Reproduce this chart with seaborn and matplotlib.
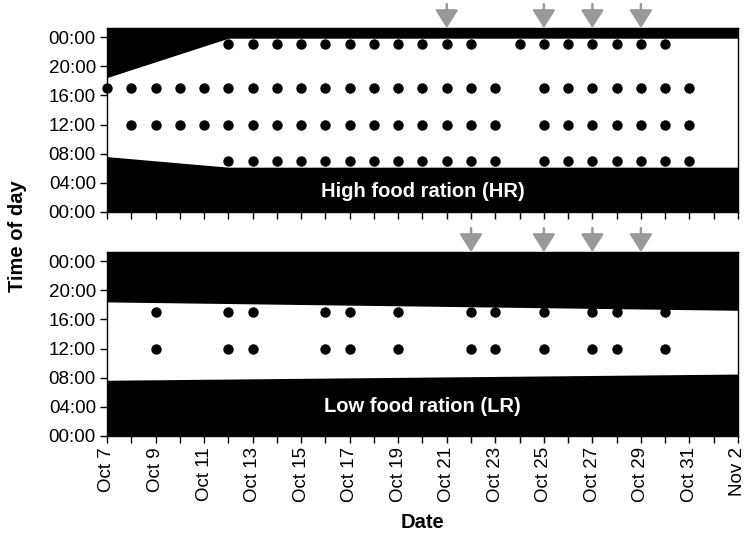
import matplotlib
matplotlib.use("Agg")
import matplotlib.pyplot as plt
import matplotlib.dates as mdates
import numpy as np
import pandas as pd
import seaborn as sns

YEAR = 2012

# Feeding events (day of month) at each feeding hour, high food ration
hr_days_23h = [12, 13, 14, 15, 16, 17, 18, 19, 20, 21, 22, 24, 25, 26, 27, 28, 29, 30]
hr_days_17h = [7, 8, 9, 10, 11, 12, 13, 14, 15, 16, 17, 18, 19, 20, 21, 22, 23,
               25, 26, 27, 28, 29, 30, 31]
hr_days_12h = [8, 9, 10, 11, 12, 13, 14, 15, 16, 17, 18, 19, 20, 21, 22, 23,
               25, 26, 27, 28, 29, 30, 31]
hr_days_07h = [12, 13, 14, 15, 16, 17, 18, 19, 20, 21, 22, 23,
               25, 26, 27, 28, 29, 30, 31]

# Feeding events, low food ration
lr_days_17h = [9, 12, 13, 16, 17, 19, 22, 23, 25, 27, 28, 30]
lr_days_12h = [9, 12, 13, 16, 17, 19, 22, 23, 25, 27, 28, 30]

# Sampling days (arrows)
hr_arrow_days = [21, 25, 27, 29]
lr_arrow_days = [22, 25, 27, 29]

# Photoperiod: hours of dawn / dusk at breakpoints
hr_light_dates = ["2012-10-07", "2012-10-12", "2012-11-02"]
hr_dawn = [7.6, 6.15, 6.15]
hr_dusk = [18.45, 23.85, 23.85]
lr_light_dates = ["2012-10-07", "2012-11-02"]
lr_dawn = [7.65, 8.5]
lr_dusk = [18.4, 17.25]

# Axis ticks and labels
y_ticks = [0, 4, 8, 12, 16, 20, 24]
y_tick_labels = ["00:00", "04:00", "08:00", "12:00", "16:00", "20:00", "00:00"]
x_tick_dates = ["2012-10-07", "2012-10-09", "2012-10-11", "2012-10-13", "2012-10-15",
                "2012-10-17", "2012-10-19", "2012-10-21", "2012-10-23", "2012-10-25",
                "2012-10-27", "2012-10-29", "2012-10-31", "2012-11-02"]
x_tick_labels = ["Oct 7", "Oct 9", "Oct 11", "Oct 13", "Oct 15", "Oct 17", "Oct 19",
                 "Oct 21", "Oct 23", "Oct 25", "Oct 27", "Oct 29", "Oct 31", "Nov 2"]

X_START = pd.Timestamp("2012-10-07")
X_END = pd.Timestamp("2012-11-02")
Y_TOP = 25.25


def oct_day(d):
    return pd.Timestamp(YEAR, 10, d)


def feeding_frame(groups):
    rows = []
    for hour, days in groups:
        for d in days:
            rows.append({"date": oct_day(d), "hour": hour})
    return pd.DataFrame(rows)


hr_feed = feeding_frame([(23, hr_days_23h), (17, hr_days_17h),
                         (12, hr_days_12h), (7, hr_days_07h)])
lr_feed = feeding_frame([(17, lr_days_17h), (12, lr_days_12h)])

sns.set_theme(style="ticks")
plt.rcParams["font.family"] = ["Liberation Sans", "DejaVu Sans"]
plt.rcParams["text.color"] = "black"
plt.rcParams["xtick.color"] = "black"
plt.rcParams["ytick.color"] = "black"
plt.rcParams["axes.labelcolor"] = "black"

fig = plt.figure(figsize=(7.44, 5.36), dpi=100)
W, H = 744, 536
left, right = 107, 738
ax_hr = fig.add_axes([left / W, 1 - 212 / H, (right - left) / W, 184 / H])
ax_lr = fig.add_axes([left / W, 1 - 436 / H, (right - left) / W, 184 / H])


def draw_panel(ax, feed, light_dates, dawn, dusk, arrow_days, label, label_y, show_xlabels):
    dates = pd.to_datetime(light_dates)
    ax.fill_between(dates, 0, dawn, color="black", lw=0, zorder=1)
    ax.fill_between(dates, dusk, Y_TOP, color="black", lw=0, zorder=1)
    sns.scatterplot(data=feed, x="date", y="hour", color="black", s=56,
                    linewidth=0, ax=ax, clip_on=False, zorder=3)
    ax.set_xlim(X_START, X_END)
    ax.set_ylim(0, Y_TOP)
    ax.set_xlabel("")
    ax.set_ylabel("")
    ax.set_yticks(y_ticks)
    ax.set_yticklabels(y_tick_labels)
    ax.set_xticks(pd.to_datetime(x_tick_dates))
    ax.set_xticks(pd.date_range(X_START, X_END, freq="D"), minor=True)
    if show_xlabels:
        ax.set_xticklabels(x_tick_labels, rotation=90)
    else:
        ax.set_xticklabels([])
    ax.tick_params(axis="both", which="both", direction="out", length=5, width=1,
                   color="black", labelcolor="black", labelsize=13.5, pad=3)
    for sp in ax.spines.values():
        sp.set_color("black")
        sp.set_linewidth(1)
    ax.text(0.5, label_y, label, transform=ax.transAxes, ha="center", va="center",
            color="white", fontsize=14.5, fontweight="bold", zorder=4)
    for d in arrow_days:
        xd = mdates.date2num(oct_day(d))
        ax.annotate("", xy=(xd, 1.0), xycoords=("data", "axes fraction"),
                    xytext=(xd, 1.13), textcoords=("data", "axes fraction"),
                    arrowprops=dict(arrowstyle="-|>,head_length=1.1,head_width=0.7",
                                    color="#999999", lw=1.8, shrinkA=0, shrinkB=0,
                                    mutation_scale=10),
                    annotation_clip=False)


draw_panel(ax_hr, hr_feed, hr_light_dates, hr_dawn, hr_dusk, hr_arrow_days,
           "High food ration (HR)", 0.11, False)
draw_panel(ax_lr, lr_feed, lr_light_dates, lr_dawn, lr_dusk, lr_arrow_days,
           "Low food ration (LR)", 0.158, True)

fig.text(18 / W, 1 - 236 / H, "Time of day", rotation=90, ha="center", va="center",
         fontsize=14.5, fontweight="bold")
fig.text((left + right) / 2 / W, 1 - 523 / H, "Date", ha="center", va="center",
         fontsize=14.5, fontweight="bold")

fig.savefig("out.png", dpi=100)
